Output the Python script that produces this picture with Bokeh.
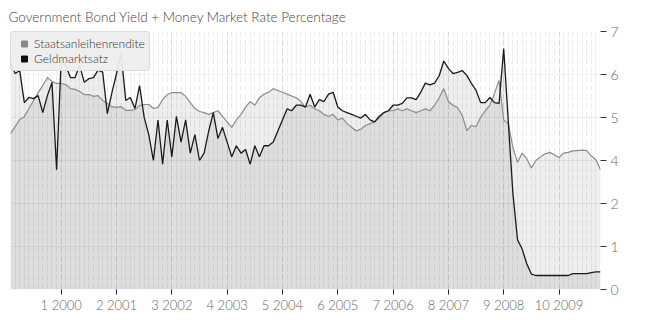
from bokeh.plotting import figure
from bokeh.models import (ColumnDataSource, FixedTicker, CustomJSTickFormatter,
                          Legend, LegendItem, Range1d)
from bokeh.embed import file_html
from bokeh.resources import INLINE

# ---------------- data ----------------
months = list(range(129))

bond_yield = [
    4.23, 4.42, 4.61, 4.69, 4.91, 5.13, 5.34, 5.53, 5.75, 5.64,
    5.59, 5.59, 5.56, 5.45, 5.43, 5.37, 5.29, 5.29, 5.24, 5.26,
    5.13, 5.05, 4.96, 4.94, 4.96, 4.86, 4.86, 4.88, 4.99, 5.02,
    5.02, 4.91, 4.94, 5.15, 5.29, 5.34, 5.34, 5.34, 5.24, 5.07,
    4.91, 4.83, 4.80, 4.75, 4.80, 4.85, 4.70, 4.55, 4.40, 4.60,
    4.75, 4.95, 5.10, 5.00, 5.20, 5.30, 5.35, 5.45, 5.40, 5.35,
    5.30, 5.25, 5.20, 5.10, 4.95, 5.00, 4.90, 4.85, 4.75, 4.70,
    4.75, 4.60, 4.65, 4.50, 4.40, 4.30, 4.35, 4.45, 4.50, 4.55,
    4.65, 4.80, 4.85, 4.85, 4.90, 4.85, 4.90, 4.85, 4.80, 4.85,
    4.90, 4.85, 5.00, 5.20, 5.45, 5.10, 5.00, 4.94, 4.72, 4.31,
    4.45, 4.42, 4.67, 4.85, 5.00, 5.32, 5.67, 4.60, 4.50, 3.85,
    3.45, 3.70, 3.55, 3.30, 3.50, 3.60, 3.68, 3.72, 3.65, 3.58,
    3.70, 3.72, 3.76, 3.77, 3.78, 3.77, 3.62, 3.52, 3.25,
]

money_rate = [
    6.16, 5.86, 5.94, 5.07, 5.21, 5.18, 5.26, 4.80, 5.26, 5.62,
    3.25, 6.27, 6.08, 5.75, 5.75, 6.08, 5.62, 5.72, 5.75, 5.95,
    5.90, 4.77, 5.34, 5.86, 6.40, 5.13, 5.21, 4.91, 5.53, 4.67,
    4.20, 3.50, 4.60, 3.40, 4.60, 3.60, 4.70, 4.00, 4.60, 3.70,
    4.20, 3.50, 3.70, 4.30, 4.80, 4.10, 4.40, 4.00, 3.60, 3.90,
    3.70, 3.80, 3.40, 3.90, 3.60, 3.90, 3.90, 4.00, 4.30, 4.60,
    4.90, 4.85, 5.00, 5.00, 4.95, 5.30, 4.95, 5.15, 5.10, 5.30,
    5.35, 4.95, 4.85, 4.80, 4.75, 4.70, 4.65, 4.75, 4.60, 4.55,
    4.70, 4.80, 4.85, 5.00, 5.00, 5.05, 5.20, 5.20, 5.15, 5.35,
    5.60, 5.55, 5.60, 5.80, 6.20, 6.00, 5.86, 5.89, 5.94, 5.81,
    5.59, 5.40, 5.07, 5.07, 5.21, 5.07, 5.05, 6.54, 4.55, 2.60,
    1.35, 1.10, 0.70, 0.42, 0.38, 0.38, 0.38, 0.38, 0.38, 0.38,
    0.38, 0.38, 0.43, 0.43, 0.43, 0.43, 0.46, 0.48, 0.48,
]

x_tick_positions = [11, 23, 35, 47, 59, 71, 83, 95, 107, 119]
x_tick_labels = ["1 2000", "2 2001", "3 2002", "4 2003", "5 2004",
                 "6 2005", "7 2006", "8 2007", "9 2008", "10 2009"]
y_max = 7
y_tick_count = 7

series_names = ["Staatsanleihenrendite", "Geldmarktsatz"]
title_text = "Government Bond Yield + Money Market Rate Percentage"

# ---------------- figure ----------------
FONT = "Lato Light"
src = ColumnDataSource(dict(x=months, bond=bond_yield, money=money_rate))

p = figure(width=660, height=320, output_backend="svg", toolbar_location=None,
           x_range=Range1d(0, months[-1]), y_range=Range1d(0, y_max),
           y_axis_location="right", title=title_text,
           min_border_left=10, min_border_right=60,
           min_border_top=31, min_border_bottom=31)
p.outline_line_color = None
p.background_fill_color = "white"
p.border_fill_color = "white"

p.title.text_font = FONT
p.title.text_font_size = "13.5px"
p.title.text_font_style = "normal"
p.title.text_color = "#444444"
p.title.align = "left"
p.title.offset = -2
p.title.standoff = 13

# areas (semi-transparent, overlap gets darker)
p.varea(x="x", y1=0, y2="bond", source=src, fill_color="black", fill_alpha=0.065)
p.varea(x="x", y1=0, y2="money", source=src, fill_color="black", fill_alpha=0.065)

# lines
p.line(x="x", y="bond", source=src, line_color="#8c8c8c", line_width=1.2)
p.line(x="x", y="money", source=src, line_color="#1a1a1a", line_width=1.3)

# legend markers (renderers with a single undrawn point, used only as legend glyphs)
nan = float("nan")
r_leg1 = p.scatter(x=[months[0]], y=[nan], marker="square", size=6, color="#888888")
r_leg2 = p.scatter(x=[months[0]], y=[nan], marker="square", size=6, color="#111111")
legend = Legend(items=[LegendItem(label=series_names[0], renderers=[r_leg1]),
                       LegendItem(label=series_names[1], renderers=[r_leg2])],
                location="top_left", orientation="vertical")
legend.label_text_font = FONT
legend.label_text_font_size = "12px"
legend.label_text_color = "#333333"
legend.padding = 4
legend.spacing = 0
legend.margin = 0
legend.label_height = 15
legend.glyph_height = 15
legend.glyph_width = 18
legend.label_standoff = 1
legend.background_fill_color = "#eeeeee"
legend.background_fill_alpha = 0.95
legend.border_line_color = "#c8c8c8"
legend.border_radius = 4
p.add_layout(legend)

# x axis
p.xaxis.ticker = FixedTicker(ticks=x_tick_positions, minor_ticks=months)
p.xaxis.major_label_overrides = {t: l for t, l in zip(x_tick_positions, x_tick_labels)}
p.xaxis.axis_line_color = None
p.xaxis.major_tick_in = 0
p.xaxis.major_tick_out = 5
p.xaxis.major_tick_line_color = "#222222"
p.xaxis.minor_tick_line_color = None
p.xaxis.major_label_text_font = FONT
p.xaxis.major_label_text_font_size = "13px"
p.xaxis.major_label_text_color = "#666666"
p.xaxis.major_label_standoff = 2

# y axis (right), 7 evenly spaced ticks, labels rounded
y_ticks = [k * y_max / (y_tick_count - 1) for k in range(y_tick_count)]
p.yaxis.ticker = FixedTicker(ticks=y_ticks)
p.yaxis.formatter = CustomJSTickFormatter(code="return String(Math.round(tick + 1e-9));")
p.yaxis.axis_line_color = None
p.yaxis.major_tick_in = 0
p.yaxis.major_tick_out = 6
p.yaxis.major_tick_line_color = "#333333"
p.yaxis.minor_tick_line_color = None
p.yaxis.major_label_text_font = FONT
p.yaxis.major_label_text_font_size = "14px"
p.yaxis.major_label_text_color = "#666666"
p.yaxis.major_label_standoff = 4

# grid: faint dashed vertical stripes, faint horizontal lines
p.xgrid.grid_line_color = "black"
p.xgrid.grid_line_alpha = 0.07
p.xgrid.grid_line_dash = "7 2"
p.xgrid.minor_grid_line_color = "black"
p.xgrid.minor_grid_line_alpha = 0.07
p.xgrid.minor_grid_line_dash = "7 2"
p.ygrid.grid_line_color = "black"
p.ygrid.grid_line_alpha = 0.06

open("out.html", "w").write(file_html(p, INLINE))
